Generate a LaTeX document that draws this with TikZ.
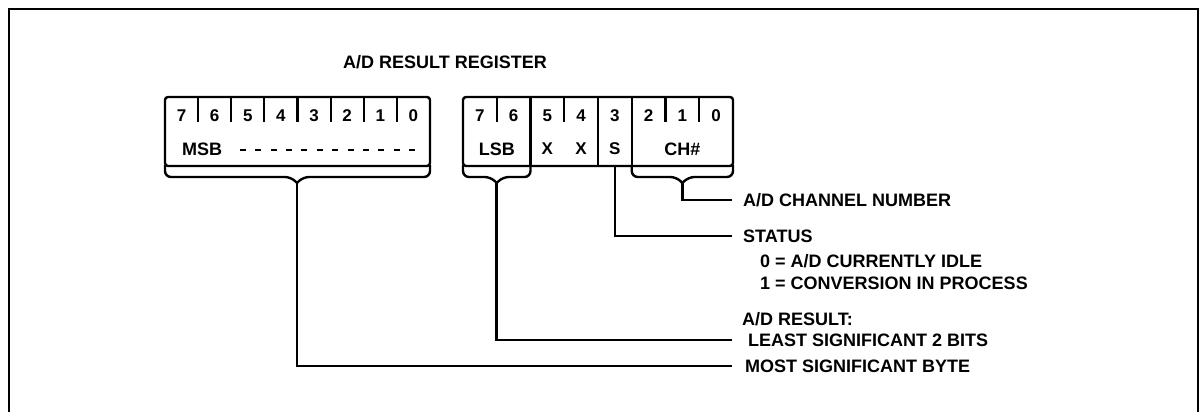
\documentclass[tikz,border=0pt]{standalone}
\usepackage{fontspec}
\setmainfont{Liberation Sans}
\usetikzlibrary{positioning}

\begin{document}
\begin{tikzpicture}[x=1pt, y=-1pt,
  font=\fontsize{18}{20}\selectfont\bfseries,
  reg/.style={draw, line width=2.4pt, rounded corners=3pt, inner sep=0pt,
              minimum height=69pt},
  tick/.style={line width=2.2pt},
  brc/.style={line width=2.4pt, rounded corners=6pt},
  wire/.style={line width=2.6pt},
  bit/.style={inner sep=0pt, font=\fontsize{17}{19}\selectfont\bfseries},
  lbl/.style={anchor=west, inner xsep=11pt, inner ysep=0pt,
              text height=13pt, text depth=0pt},
  sub/.style={anchor=west, inner sep=0pt, text height=13pt, text depth=0pt}
]
  \useasboundingbox (0,0) rectangle (1203,412);
  \draw[line width=2.8pt] (9,412) -- (9,9) -- (1198,9) -- (1198,412);

  \node (title) at (445,62) {A/D RESULT REGISTER};

  % high byte
  \node[reg, minimum width=265pt] (hireg) at (297.5,131.5) {};
  \foreach \i in {1,...,7}
    \draw[tick] ({165+\i*33.125},97) -- ({165+\i*33.125},122);
  \foreach \b in {0,...,7}
    \node[bit] (hb\b) at ({413.4-\b*33.125},116) {\b};
  \node[sub] (msb) at (182,149) {MSB};
  \draw[line width=2pt, dash pattern=on 6pt off 9.36pt] (240,150) -- (415,150);

  % low byte
  \node[reg, minimum width=270pt] (loreg) at (598,131.5) {};
  \foreach \k in {1,3,6,7}
    \draw[tick] ({463+\k*33.75},97) -- ({463+\k*33.75},122);
  \foreach \k in {2,4,5}
    \draw[tick] ({463+\k*33.75},97) -- ({463+\k*33.75},166);
  \foreach \b in {0,...,7}
    \node[bit] (lb\b) at ({716.1-\b*33.75},116) {\b};
  \node[bit, font=\fontsize{18}{20}\selectfont\bfseries] (lsb) at (496.75,149) {LSB};
  \node[bit] (x5) at (547.4,149) {X};
  \node[bit] (x4) at (581.1,149) {X};
  \node[bit] (st) at (614.9,149) {S};
  \node[bit, font=\fontsize{18}{20}\selectfont\bfseries] (ch) at (682.4,149) {CH\#};

  % braces
  \draw[brc] (165,165) -- (165,177) -- (291,177) -- (297,183);
  \draw[brc] (430,165) -- (430,177) -- (303,177) -- (297,183);
  \draw[brc] (463,165) -- (463,177) -- (490.75,177) -- (496.75,183);
  \draw[brc] (530.5,165) -- (530.5,177) -- (502.75,177) -- (496.75,183);
  \draw[brc] (631.75,165) -- (631.75,177) -- (676.4,177) -- (682.4,183);
  \draw[brc] (733,165) -- (733,177) -- (688.4,177) -- (682.4,183);
  \coordinate (hitip) at (297,183);
  \coordinate (lotip) at (496.75,183);
  \coordinate (chtip) at (682.4,183);
  \coordinate (sttip) at (614.9,166);

  % labels
  \node[lbl] (chlbl) at (732,200) {A/D CHANNEL NUMBER};
  \node[lbl] (stlbl) at (732,236) {STATUS};
  \node[sub] (idle) at (760,261) {0 = A/D CURRENTLY IDLE};
  \node[sub] (conv) at (760,283) {1 = CONVERSION IN PROCESS};
  \node[sub] (res) at (742,319) {A/D RESULT:};
  \node[lbl, inner xsep=16pt] (lsblbl) at (732,340) {LEAST SIGNIFICANT 2 BITS};
  \node[lbl, inner xsep=13pt] (msblbl) at (732,366) {MOST SIGNIFICANT BYTE};

  \draw[wire] (chtip) |- (chlbl.west);
  \draw[wire] (sttip) |- (stlbl.west);
  \draw[wire] (lotip) |- (lsblbl.west);
  \draw[wire] (hitip) |- (msblbl.west);
\end{tikzpicture}
\end{document}
